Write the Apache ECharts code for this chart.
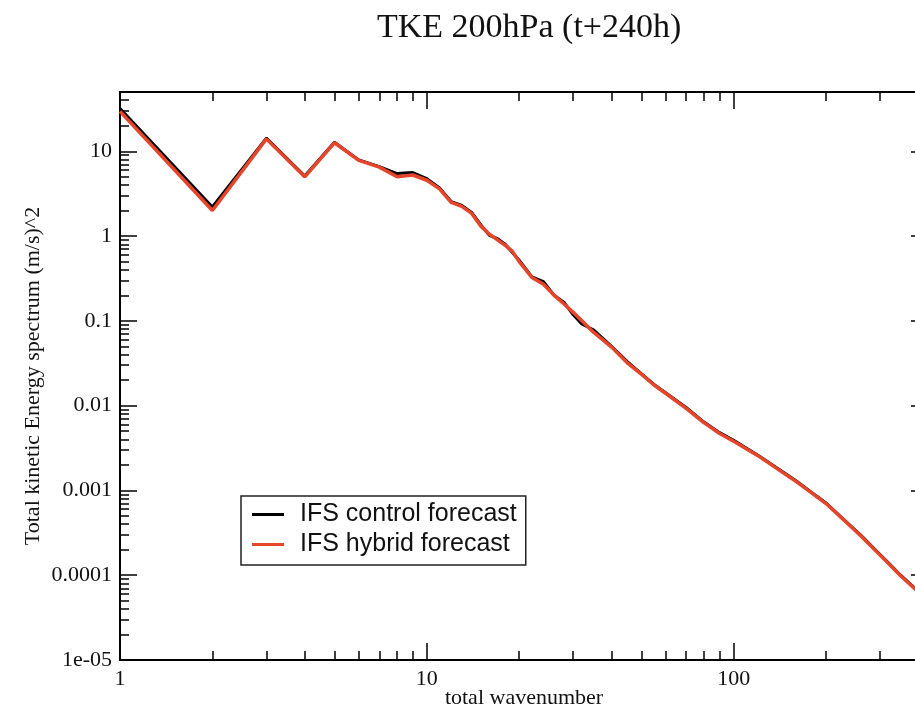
<!DOCTYPE html>
<html lang="en">
<head>
    <meta charset="UTF-8">
    <title>TKE 200hPa (t+240h)</title>
    <script src="https://cdn.jsdelivr.net/npm/echarts@6.0.0/dist/echarts.min.js"></script>
</head>
<body style="margin:0;background:#fff;">
<div id="main" style="width: 915px;height:711px;"></div>
<script type="text/javascript">
    // data
    var wavenumbers = [1, 2, 3, 4, 5, 6, 7, 8, 9, 10, 11, 12, 13, 14, 15, 16, 17, 18, 19, 20,
        22, 24, 26, 28, 30, 32, 35, 40, 45, 50, 55, 60, 70, 80, 90, 100,
        120, 140, 160, 180, 200, 230, 260, 290, 320, 350, 380, 399];
    var controlValues = [32, 2.2, 14.3, 5.1, 12.8, 7.9, 6.6, 5.45, 5.6, 4.75, 3.7, 2.55, 2.3, 1.9, 1.35, 1.02, 0.93, 0.8, 0.64, 0.52,
        0.33, 0.29, 0.2, 0.165, 0.118, 0.092, 0.078, 0.05, 0.033, 0.0238, 0.0178, 0.0142, 0.0095, 0.0064, 0.0048, 0.0039,
        0.0026, 0.00179, 0.00129, 0.00094, 0.00071, 0.000445, 0.000295, 0.000198, 0.000139, 0.0001, 0.0000765, 0.000065];
    var hybridValues = [29.5, 2.0, 14.0, 5.0, 12.6, 7.8, 6.5, 5.0, 5.25, 4.55, 3.6, 2.5, 2.24, 1.85, 1.31, 1.05, 0.9, 0.78, 0.66, 0.5,
        0.325, 0.27, 0.2, 0.158, 0.126, 0.1, 0.073, 0.049, 0.032, 0.0235, 0.0175, 0.014, 0.0093, 0.0063, 0.0047, 0.0038,
        0.00257, 0.00176, 0.00127, 0.00093, 0.0007, 0.00044, 0.00029, 0.000195, 0.000137, 0.0000985, 0.0000752, 0.0000638];

    var xTickValues = [1, 10, 100];
    var xTickLabels = ['1', '10', '100'];
    var yTickValues = [1e-5, 1e-4, 1e-3, 1e-2, 1e-1, 1, 10];
    var yTickLabels = ['1e-05', '0.0001', '0.001', '0.01', '0.1', '1', '10'];

    var xMin = 1, xMax = 430, yMin = 1e-5, yMax = 50;

    // minor ticks 2..9 of every decade
    function minorTicks(lo, hi) {
        var out = [];
        for (var d = lo; d < hi; d *= 10) {
            for (var m = 2; m <= 9; m++) {
                var v = +(m * d).toPrecision(6);
                if (v > lo && v < hi) out.push(v);
            }
        }
        return out;
    }

    function pickLabel(values, labels) {
        return function (v) {
            var e = Math.round(Math.log10(v));
            for (var i = 0; i < values.length; i++) {
                if (Math.round(Math.log10(values[i])) === e) return labels[i];
            }
            return '';
        };
    }

    var serif = '"Liberation Serif", "DejaVu Serif", serif';

    function makeAxis(pos, isMajor, withLabels, lo, hi, majors, labels) {
        var ax = {
            type: 'log',
            logBase: 10,
            min: lo,
            max: hi,
            position: pos,
            gridIndex: 0,
            axisLine: {show: isMajor, onZero: false, lineStyle: {color: '#000', width: 2}},
            axisTick: {
                show: true,
                inside: true,
                length: isMajor ? 17 : 9,
                customValues: isMajor ? majors : minorTicks(lo, hi),
                lineStyle: {color: '#000', width: 1.5}
            },
            axisLabel: {show: false},
            splitLine: {show: false},
            minorTick: {show: false},
            axisPointer: {show: false}
        };
        if (withLabels) {
            ax.axisLabel = {
                show: true,
                customValues: majors,
                formatter: pickLabel(majors, labels),
                fontFamily: serif,
                fontSize: 22,
                color: '#111',
                margin: 8
            };
        }
        return ax;
    }

    var xAxes = [
        makeAxis('bottom', true, true, xMin, xMax, xTickValues, xTickLabels),
        makeAxis('bottom', false, false, xMin, xMax, xTickValues, xTickLabels),
        makeAxis('top', true, false, xMin, xMax, xTickValues, xTickLabels),
        makeAxis('top', false, false, xMin, xMax, xTickValues, xTickLabels)
    ];
    xAxes[0].name = 'total wavenumber';
    xAxes[0].nameLocation = 'middle';
    xAxes[0].nameGap = 27;
    xAxes[0].nameMoveOverlap = false;
    xAxes[0].nameTextStyle = {fontFamily: serif, fontSize: 22, color: '#111'};

    var yAxes = [
        makeAxis('left', true, true, yMin, yMax, yTickValues, yTickLabels),
        makeAxis('left', false, false, yMin, yMax, yTickValues, yTickLabels),
        makeAxis('right', true, false, yMin, yMax, yTickValues, yTickLabels),
        makeAxis('right', false, false, yMin, yMax, yTickValues, yTickLabels)
    ];
    yAxes[0].name = 'Total kinetic Energy spectrum (m/s)^2';
    yAxes[0].nameLocation = 'middle';
    yAxes[0].nameGap = 76;
    yAxes[0].nameMoveOverlap = false;
    yAxes[0].nameTextStyle = {fontFamily: serif, fontSize: 22, color: '#111'};

    function pairs(xs, ys) {
        var out = [];
        for (var i = 0; i < xs.length; i++) out.push([xs[i], ys[i]]);
        return out;
    }

    var myChart = echarts.init(document.getElementById('main'), null, {renderer: 'canvas'});

    var option = {
        animation: false,
        backgroundColor: '#fff',
        title: {
            text: 'TKE 200hPa (t+240h)',
            left: 372,
            top: 6,
            textStyle: {fontFamily: serif, fontSize: 34, fontWeight: 'normal', color: '#111'}
        },
        legend: {
            orient: 'vertical',
            left: 241,
            top: 496,
            icon: 'rect',
            itemWidth: 32,
            itemHeight: 3,
            itemGap: 5,
            padding: [6, 9, 8, 11],
            borderColor: '#222',
            borderWidth: 1.5,
            backgroundColor: '#fff',
            textStyle: {fontFamily: '"Liberation Sans", Arial, sans-serif', fontSize: 25, color: '#111', padding: [0, 0, 0, 11]},
            data: ['IFS control forecast', 'IFS hybrid forecast']
        },
        grid: {left: 120, right: -13, top: 92, bottom: 51, outerBoundsMode: 'none'},
        xAxis: xAxes,
        yAxis: yAxes,
        series: [
            {
                name: 'IFS control forecast',
                type: 'line',
                xAxisIndex: 0,
                yAxisIndex: 0,
                showSymbol: false,
                symbol: 'none',
                color: '#000',
                lineStyle: {color: '#000', width: 3},
                data: pairs(wavenumbers, controlValues)
            },
            {
                name: 'IFS hybrid forecast',
                type: 'line',
                xAxisIndex: 0,
                yAxisIndex: 0,
                showSymbol: false,
                symbol: 'none',
                color: '#e5452b',
                lineStyle: {color: '#e5452b', width: 3.5},
                data: pairs(wavenumbers, hybridValues)
            }
        ]
    };

    myChart.setOption(option);
</script>
</body>
</html>
